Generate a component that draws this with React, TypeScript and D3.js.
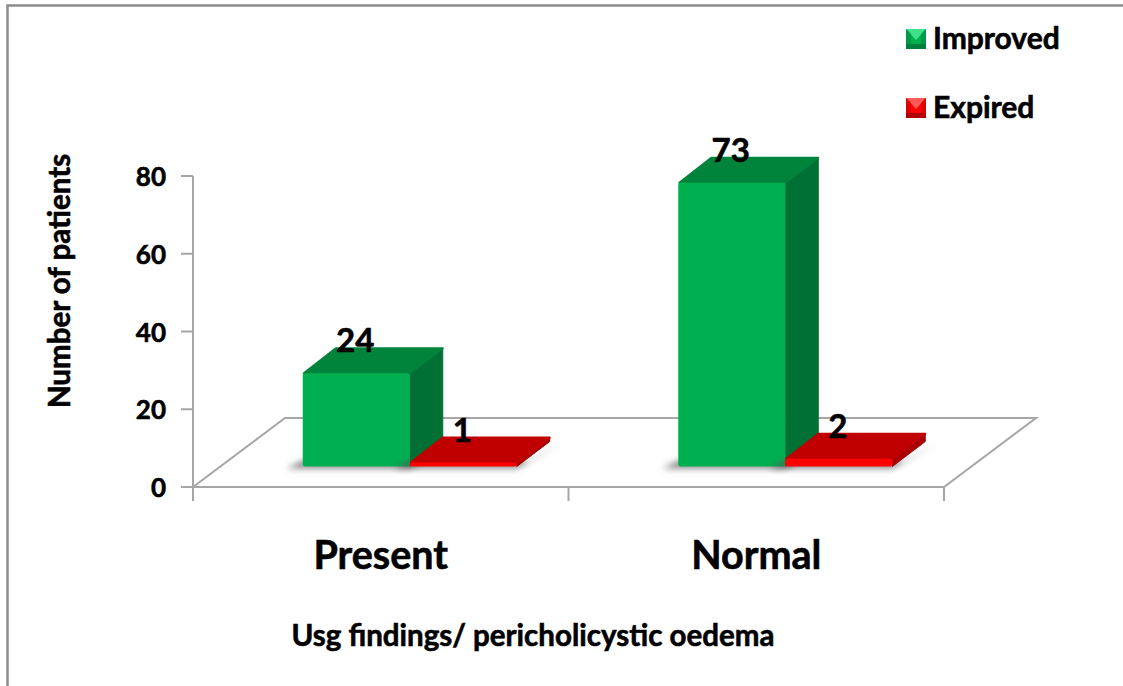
import React from "react";
import * as d3 from "d3";

const categories = ["Present", "Normal"];
const seriesNames = ["Improved", "Expired"];
const improved = [24, 73];
const expired = [1, 2];
const yTicks = [0, 20, 40, 60, 80];

const FONT = "Lato, 'Open Sans', sans-serif";
const W = 1123, H = 686;
const y = d3.scaleLinear().domain([0, 80]).range([487, 176]);
const xCat = d3.scaleBand<string>().domain(categories).range([193, 944]);
const barW = 107;
const xSeries = d3.scaleBand<string>().domain(seriesNames).range([0, barW * 2]);
const unit = y(0) - y(1);
const baseY = 466.5;
const depthX = 33, depthY = 25;
const floorDX = 92, floorDY = 69;
const shiftX = 29;

const colors: Record<string, { front: string; top: string; side: string }> = {
  Improved: { front: "#00b050", top: "#00843c", side: "#007035" },
  Expired: { front: "#ff0000", top: "#c00000", side: "#a80000" },
};

function Bar({ cat, name, value }: { cat: string; name: string; value: number }) {
  const c = colors[name];
  const x0 = (xCat(cat) as number) + xCat.bandwidth() / 2 - barW + shiftX + (xSeries(name) as number);
  const x1 = x0 + barW;
  const h = value * unit;
  const t = baseY - h;
  return (
    <g>
      <polygon
        points={`${x0 - 16},${baseY + 2} ${x1},${baseY + 2} ${x1 + depthX + 12},${baseY - depthY + 2} ${x1 + 12},${baseY - 6} ${x0},${baseY - 6}`}
        fill="#555"
        opacity={0.7}
        filter="url(#shadow)"
      />
      <polygon points={`${x1},${t} ${x1 + depthX},${t - depthY} ${x1 + depthX},${baseY - depthY} ${x1},${baseY}`} fill={c.side} stroke={c.side} strokeWidth={1} strokeLinejoin="round" />
      <polygon points={`${x0 + 1},${t} ${x0 + depthX},${t - depthY} ${x1 + depthX},${t - depthY} ${x1},${t}`} fill={c.top} stroke={c.top} strokeWidth={2} strokeLinejoin="round" />
      <rect x={x0} y={t} width={barW} height={h} rx={2.5} fill={c.front} />
    </g>
  );
}

function Swatch({ x, yy, name }: { x: number; yy: number; name: string }) {
  const s = 20, b = 5;
  const light = name === "Improved" ? "#3fe08c" : "#ff5a5a";
  const mid = name === "Improved" ? "#00b050" : "#ff0000";
  const dark = name === "Improved" ? "#00803a" : "#b00000";
  const side = name === "Improved" ? "#009a46" : "#dc0000";
  return (
    <g>
      <rect x={x} y={yy} width={s} height={s} fill={mid} />
      <polygon points={`${x},${yy} ${x + s},${yy} ${x + s / 2},${yy + s * 0.55}`} fill={light} />
      <polygon points={`${x},${yy} ${x + b},${yy + b} ${x + b},${yy + s - b} ${x},${yy + s}`} fill={side} />
      <polygon points={`${x + s},${yy} ${x + s - b},${yy + b} ${x + s - b},${yy + s - b} ${x + s},${yy + s}`} fill={side} />
      <rect x={x} y={yy + s - b} width={s} height={b} fill={dark} />
    </g>
  );
}

const heavy = { stroke: "#000", strokeWidth: 0.6, fill: "#000", fontWeight: 700 } as const;

export default function App() {
  const axisColor = "#a6a6a6";
  const allBars = categories.flatMap((cat, i) => [
    { cat, name: seriesNames[0], value: improved[i] },
    { cat, name: seriesNames[1], value: expired[i] },
  ]);
  return (
    <svg width={W} height={H} style={{ position: "absolute", left: 0, top: 0, background: "#fff" }} fontFamily={FONT}>
      <defs>
        <filter id="shadow" x="-20%" y="-50%" width="140%" height="200%">
          <feGaussianBlur stdDeviation="3" />
        </filter>
      </defs>
      <path d={`M7.5,${H} V5.5 H${W}`} fill="none" stroke="#8c8c8c" strokeWidth={2.5} />

      <polygon
        points={`${xCat.range()[0]},${y(0)} ${xCat.range()[0] + floorDX},${y(0) - floorDY} ${xCat.range()[1] + floorDX},${y(0) - floorDY} ${xCat.range()[1]},${y(0)}`}
        fill="#fff"
        stroke={axisColor}
        strokeWidth={2}
      />
      <line x1={193} x2={193} y1={y(80)} y2={501} stroke={axisColor} strokeWidth={2} />
      {yTicks.map((t) => (
        <g key={t}>
          <line x1={181} x2={193} y1={y(t)} y2={y(t)} stroke={axisColor} strokeWidth={2} />
          <text x={166} y={y(t) + 10} textAnchor="end" fontSize={26} {...heavy}>{t}</text>
        </g>
      ))}
      {[...categories.map((c) => xCat(c) as number), xCat.range()[1]].map((x) => (
        <line key={x} x1={x} x2={x} y1={y(0)} y2={501} stroke={axisColor} strokeWidth={2} />
      ))}

      {allBars.map((b) => <Bar key={b.cat + b.name} {...b} />)}

      {allBars.map((b) => {
        const x0 = (xCat(b.cat) as number) + xCat.bandwidth() / 2 - barW + shiftX + (xSeries(b.name) as number);
        const top = baseY - b.value * unit;
        return (
          <text key={b.cat + b.name + "l"} x={x0 + barW / 2 - 1} y={top - 21} textAnchor="middle" fontSize={33} {...heavy}>
            {b.value}
          </text>
        );
      })}

      {categories.map((c) => (
        <text key={c} x={(xCat(c) as number) + xCat.bandwidth() / 2} y={569} textAnchor="middle" fontSize={39.5} {...heavy}>{c}</text>
      ))}

      <text x={533} y={646} textAnchor="middle" fontSize={29.5} {...heavy}>Usg findings/ pericholicystic oedema</text>
      <text transform="translate(70,281) rotate(-90)" textAnchor="middle" fontSize={29.5} {...heavy}>Number of patients</text>

      {seriesNames.map((n, i) => (
        <g key={n}>
          <Swatch x={906} yy={[29, 98][i]} name={n} />
          <text x={933} y={[49, 118][i]} fontSize={30} {...heavy}>{n}</text>
        </g>
      ))}
    </svg>
  );
}
